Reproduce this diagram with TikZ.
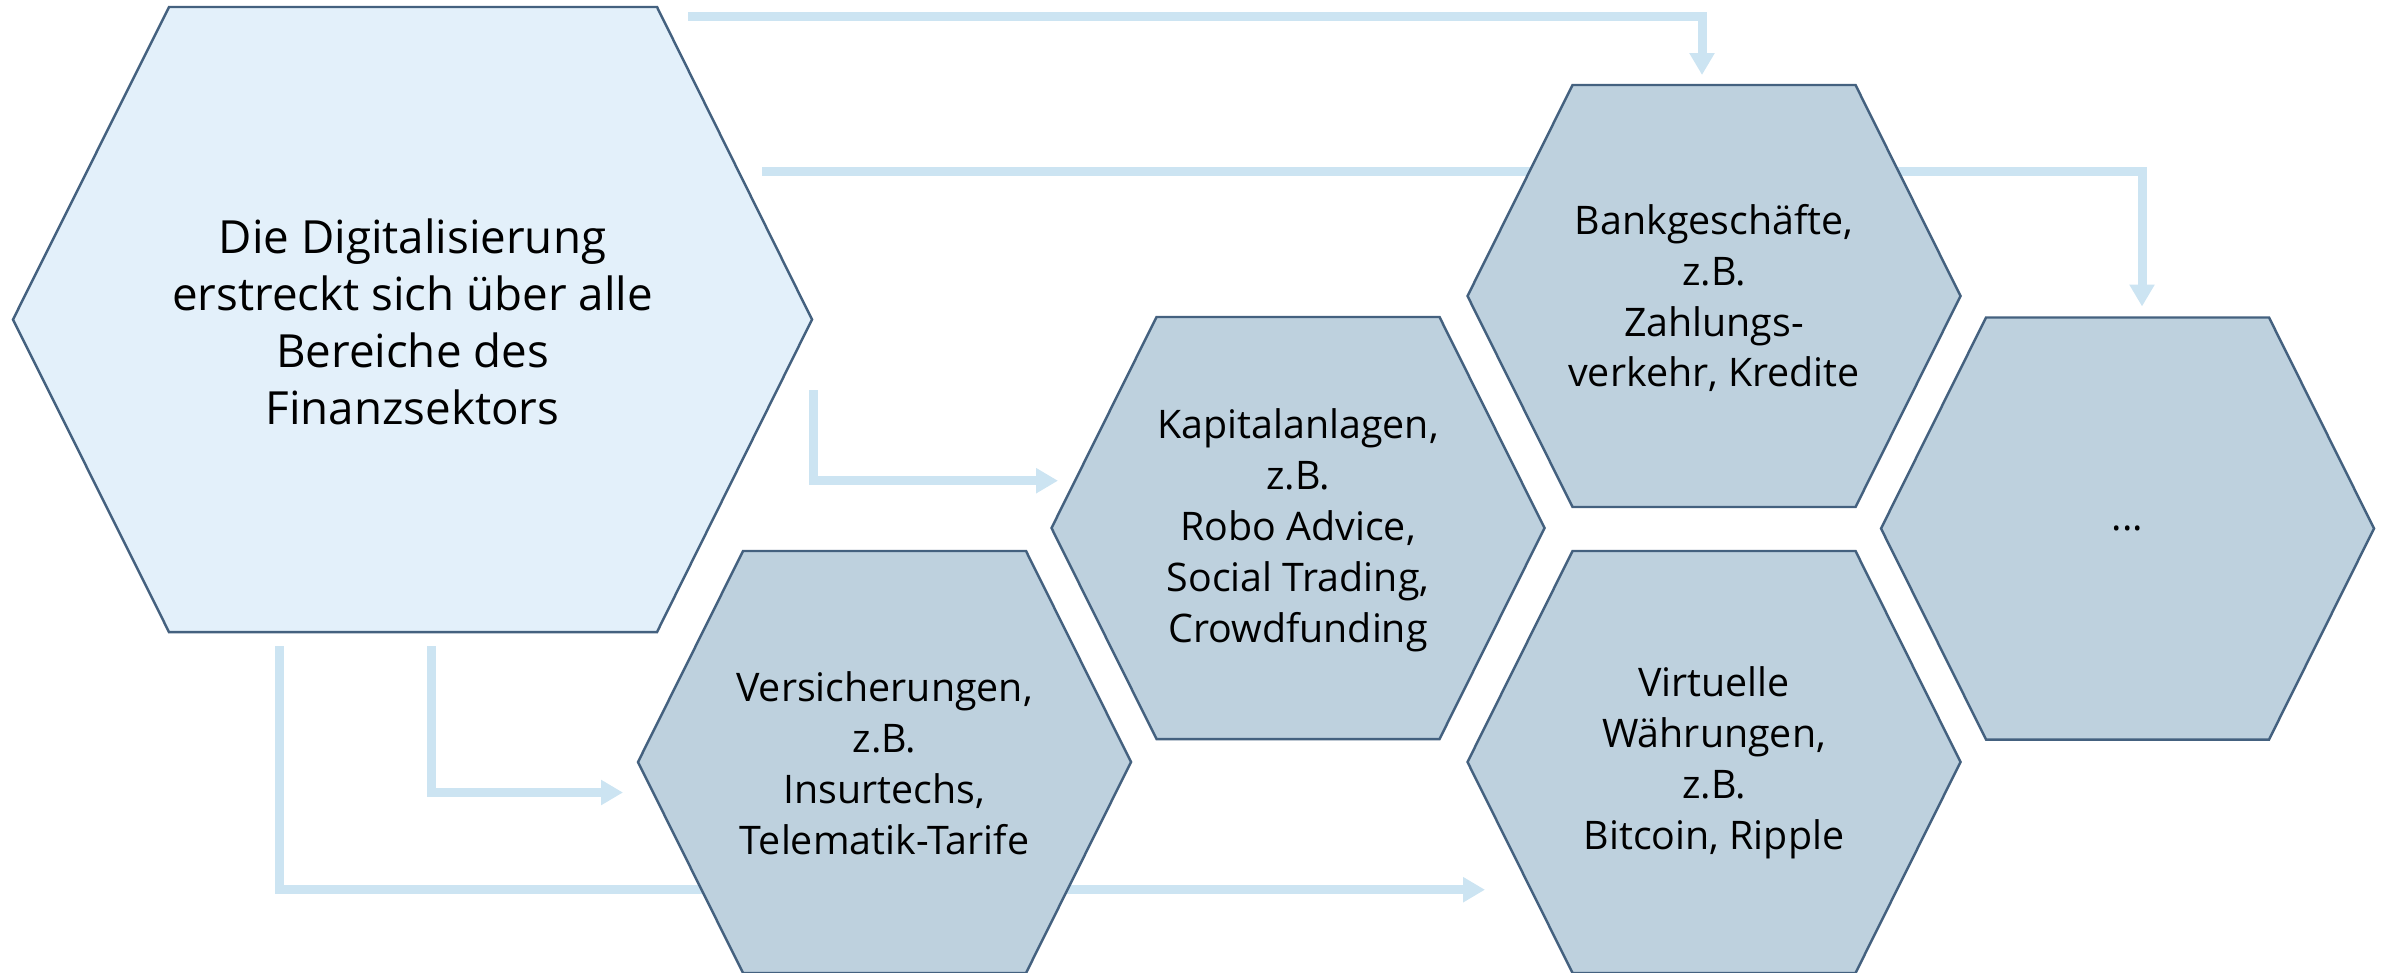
\documentclass[tikz,border=0pt]{standalone}
\usepackage{fontspec}
\setmainfont{Open Sans}
\usetikzlibrary{arrows.meta}
\definecolor{mainfill}{HTML}{E3F0FA}
\definecolor{cellfill}{HTML}{BED1DE}
\definecolor{cellline}{HTML}{44617F}
\definecolor{flowcol}{HTML}{CCE4F2}
\begin{document}
\begin{tikzpicture}
    \tikzstyle{hexmain} = [draw=cellline, line width=0.7pt, fill=mainfill]
    \tikzstyle{hexcell} = [draw=cellline, line width=0.7pt, fill=cellfill]
    \tikzstyle{maintext} = [align=center, font=\fontsize{13}{16.2}\selectfont]
    \tikzstyle{celltext} = [align=center, font=\fontsize{11.2}{14.5}\selectfont]
    \tikzstyle{flow} = [draw=flowcol, line width=0.09cm, -{Triangle[length=0.22cm, width=0.24cm]}]
    \useasboundingbox (0,0) rectangle (23.82,-9.72);
    % arrow ends
    \coordinate (s-bank) at (6.88,-0.167);
    \coordinate (e-bank) at (17.02,-0.75);
    \coordinate (s-dots) at (7.62,-1.71);
    \coordinate (e-dots) at (21.42,-3.065);
    \coordinate (s-kap) at (8.13,-3.90);
    \coordinate (e-kap) at (10.58,-4.807);
    \coordinate (s-vers) at (4.31,-6.46);
    \coordinate (e-vers) at (6.23,-7.925);
    \coordinate (s-virt) at (2.79,-6.46);
    \coordinate (e-virt) at (14.85,-8.897);
    \draw[flow] (s-bank) -| (e-bank);
    \draw[flow] (s-dots) -| (e-dots);
    \draw[flow] (s-kap) |- (e-kap);
    \draw[flow] (s-vers) |- (e-vers);
    \draw[flow] (s-virt) |- (e-virt);
    % hexagons
    \draw[hexmain] (0.13,-3.195) -- (1.69,-0.07) -- (6.57,-0.07) -- (8.12,-3.195) -- (6.57,-6.32) -- (1.69,-6.32) -- cycle;
    \draw[hexcell] (10.515,-5.28) -- ++(1.05,2.11) -- ++(2.83,0) -- ++(1.05,-2.11) -- ++(-1.05,-2.11) -- ++(-2.83,0) -- cycle;
    \draw[hexcell] (6.38,-7.62) -- ++(1.05,2.11) -- ++(2.83,0) -- ++(1.05,-2.11) -- ++(-1.05,-2.11) -- ++(-2.83,0) -- cycle;
    \draw[hexcell] (14.675,-2.96) -- ++(1.05,2.11) -- ++(2.83,0) -- ++(1.05,-2.11) -- ++(-1.05,-2.11) -- ++(-2.83,0) -- cycle;
    \draw[hexcell] (14.675,-7.62) -- ++(1.05,2.11) -- ++(2.83,0) -- ++(1.05,-2.11) -- ++(-1.05,-2.11) -- ++(-2.83,0) -- cycle;
    \draw[hexcell] (18.81,-5.285) -- ++(1.05,2.11) -- ++(2.83,0) -- ++(1.05,-2.11) -- ++(-1.05,-2.11) -- ++(-2.83,0) -- cycle;
    % texts
    \node[maintext] (digi) at (4.125,-3.22) {Die Digitalisierung\\erstreckt sich über alle\\Bereiche des\\Finanzsektors};
    \node[celltext] (kap) at (12.98,-5.30) {Kapitalanlagen,\\z.B.\\ Robo Advice,\\Social Trading,\\Crowdfunding};
    \node[celltext] (vers) at (8.845,-7.63) {Versicherungen,\\z.B.\\Insurtechs,\\Telematik-Tarife};
    \node[celltext] (bank) at (17.14,-2.98) {Bankgeschäfte,\\z.B.\\Zahlungs-\\verkehr, Kredite};
    \node[celltext] (virt) at (17.14,-7.63) {Virtuelle\\Währungen,\\z.B.\\Bitcoin, Ripple};
    \node[celltext] (dots) at (21.275,-5.285) {...};
\end{tikzpicture}
\end{document}
